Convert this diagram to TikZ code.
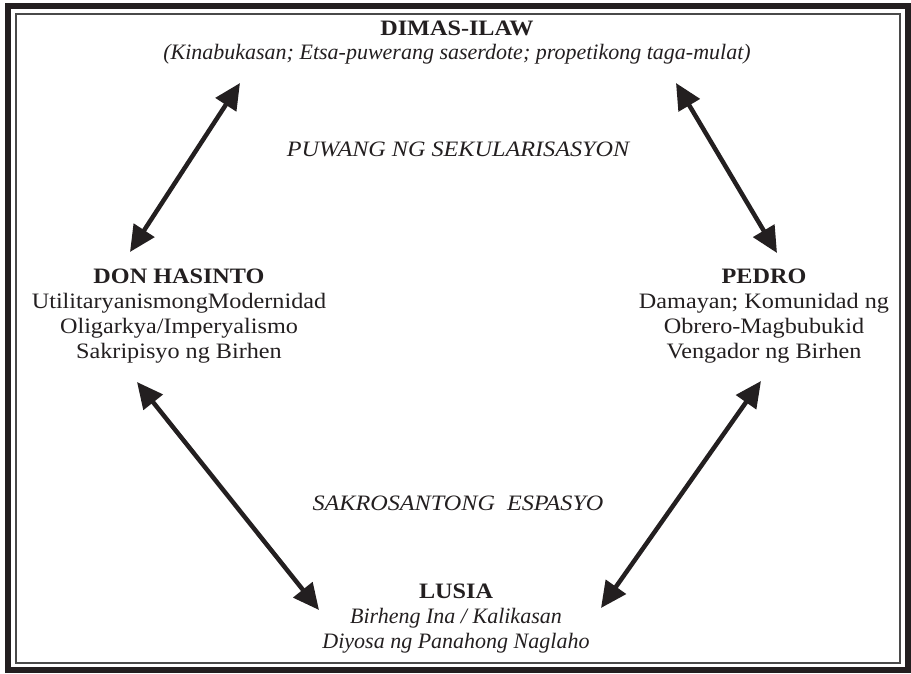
\documentclass[tikz,border=0pt]{standalone}
\usepackage{fontspec}
\setmainfont{Liberation Serif}[FakeStretch=1.1]
\newfontfamily\lowitfont{Liberation Serif}[FakeStretch=1.0]
\usetikzlibrary{arrows.meta}
\definecolor{ink}{HTML}{231F20}
\definecolor{rule}{HTML}{4A4A4A}
\begin{document}
\begin{tikzpicture}[x=1pt,y=-1pt,
  txt/.style={inner sep=0pt, anchor=base, text=ink, font=\fontsize{22}{25}\selectfont},
  ttl/.style={txt, font=\fontsize{22}{25}\selectfont\bfseries},
  capit/.style={txt, font=\fontsize{22}{25}\selectfont\itshape},
  lowit/.style={txt, font=\lowitfont\fontsize{22}{25}\selectfont\itshape},
  dblarrow/.style={{Triangle[length=26pt,width=24pt]}-{Triangle[length=26pt,width=24pt]}, line width=4.5pt, draw=ink}]
\useasboundingbox (0,0) rectangle (911,673);
% frame
\draw[line width=6pt, draw=ink] (8,5.5) rectangle (907.5,670);
\draw[line width=1.3pt, draw=rule] (16,14) rectangle (900,663);
% texts
\node[ttl] (dimas) at (457,35) {DIMAS-ILAW};
\node[lowit] (dimas1) at (457,59) {(Kinabukasan; Etsa-puwerang saserdote; propetikong taga-mulat)};
\node[capit] (puwang) at (458,156) {PUWANG NG SEKULARISASYON};
\node[ttl] (don) at (179,283) {DON HASINTO};
\node[txt] (don1) at (179,308) {UtilitaryanismongModernidad};
\node[txt] (don2) at (179,333) {Oligarkya/Imperyalismo};
\node[txt] (don3) at (179,358) {Sakripisyo ng Birhen};
\node[ttl] (pedro) at (764,283) {PEDRO};
\node[txt] (pedro1) at (764,308) {Damayan; Komunidad ng};
\node[txt] (pedro2) at (764,333) {Obrero-Magbubukid};
\node[txt] (pedro3) at (764,358) {Vengador ng Birhen};
\node[capit] (sakro) at (458,510) {SAKROSANTONG\ \ ESPASYO};
\node[ttl] (lusia) at (456,598) {LUSIA};
\node[lowit] (lusia1) at (456,623) {Birheng Ina / Kalikasan};
\node[lowit] (lusia2) at (456,648) {Diyosa ng Panahong Naglaho};
% arrow ends
\coordinate (a1s) at (130,252);
\coordinate (a1e) at (240,83);
\coordinate (a2s) at (676,83);
\coordinate (a2e) at (777,253);
\coordinate (a3s) at (137,382);
\coordinate (a3e) at (319,610);
\coordinate (a4s) at (761,381);
\coordinate (a4e) at (601,608);
\draw[dblarrow] (a1s) -- (a1e);
\draw[dblarrow] (a2s) -- (a2e);
\draw[dblarrow] (a3s) -- (a3e);
\draw[dblarrow] (a4s) -- (a4e);
\end{tikzpicture}
\end{document}
